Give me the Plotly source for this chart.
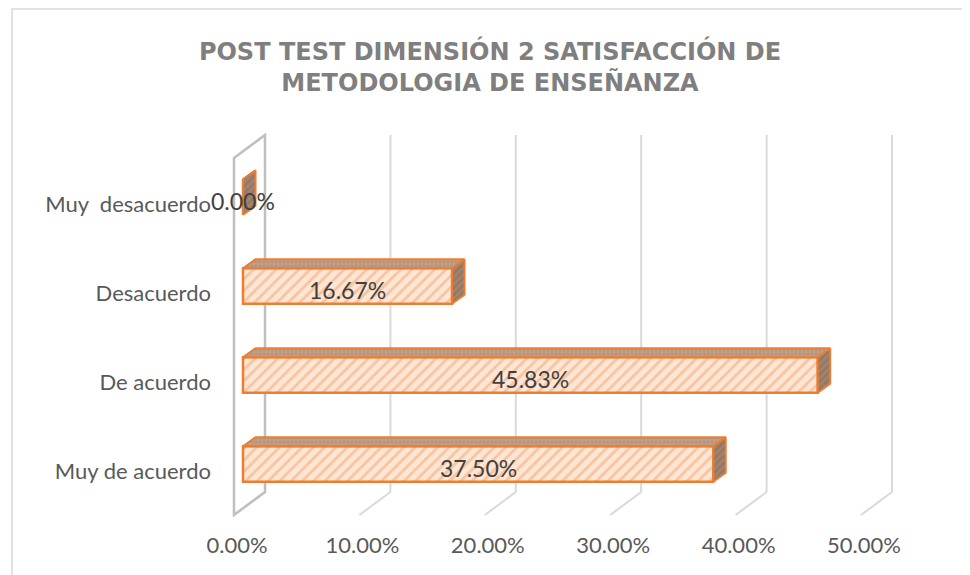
import plotly.graph_objects as go

# ---------------- data ----------------
categories = ["Muy de acuerdo", "De acuerdo", "Desacuerdo", "Muy  desacuerdo"]
values = [0.375, 0.4583, 0.1667, 0.0]
tick_values = [0.0, 0.1, 0.2, 0.3, 0.4, 0.5]
title_text = "POST TEST DIMENSIÓN 2 SATISFACCIÓN DE<br>METODOLOGIA DE ENSEÑANZA"

# ---------------- geometry (screen pixels; page body adds an 8px offset) ----------------
W, H = 970, 575
OFF = 8
PLOT_LEFT, PLOT_RIGHT = 212 - OFF, 910 - OFF
PLOT_TOP, PLOT_BOTTOM = 130 - OFF, 520 - OFF
L, R = PLOT_LEFT, W - PLOT_RIGHT
T, B = PLOT_TOP, H - PLOT_BOTTOM
PX_PER_UNIT_X = 1254.0    # pixels per 1.0 (100%)
PX_PER_CAT = 89.0
X0_PX = 243 - OFF         # pixel of value 0 on bar plane
CAT0_PX = 464 - OFF       # pixel of first category centre
plot_w = PLOT_RIGHT - PLOT_LEFT
plot_h = PLOT_BOTTOM - PLOT_TOP
xmin = -(X0_PX - PLOT_LEFT) / PX_PER_UNIT_X
xmax = xmin + plot_w / PX_PER_UNIT_X
ymin = -(PLOT_BOTTOM - CAT0_PX) / PX_PER_CAT
ymax = ymin + plot_h / PX_PER_CAT


def py(screen_px):  # screen pixel y -> y data
    return (CAT0_PX - (screen_px - OFF)) / PX_PER_CAT


def paper_x(screen_px):
    return (screen_px - OFF - PLOT_LEFT) / plot_w


def paper_y(screen_px):
    return (PLOT_BOTTOM - (screen_px - OFF)) / plot_h


back_dx = 22 / PX_PER_UNIT_X
front_dx = -9 / PX_PER_UNIT_X
wall_top, wall_bot, floor_front, wall_front_top = py(135), py(492), py(515), py(158)

depth_dx = 12.5 / PX_PER_UNIT_X
depth_dy = 9 / PX_PER_CAT
half = 0.2

ORANGE = "#ed7d31"
TEXT = "#595959"
FONT = "Lato"

fig = go.Figure()

# top faces and side faces of 3D bars (derived from data)
for i, v in enumerate(values):
    ytop = i + half
    ybot = i - half
    fig.add_trace(go.Scatter(
        x=[0, v, v + depth_dx, depth_dx, 0],
        y=[ytop, ytop, ytop + depth_dy, ytop + depth_dy, ytop],
        mode="lines", fill="toself", fillcolor="#c9a58c",
        fillpattern=dict(shape=".", bgcolor="#ad9888", fgcolor="#f0a26d", size=4, solidity=0.45),
        line=dict(color=ORANGE, width=2), hoverinfo="skip", showlegend=False))
    fig.add_trace(go.Scatter(
        x=[v, v + depth_dx, v + depth_dx, v, v],
        y=[ybot, ybot + depth_dy, ytop + depth_dy, ytop, ybot],
        mode="lines", fill="toself", fillcolor="#9c8575",
        fillpattern=dict(shape="/", bgcolor="#8f7a6c", fgcolor="#d08a5a", size=5, solidity=0.4),
        line=dict(color=ORANGE, width=2), hoverinfo="skip", showlegend=False))

# front faces
fig.add_trace(go.Bar(
    x=values, y=list(range(len(categories))), orientation="h", width=2 * half,
    marker=dict(color="#fde6d5", line=dict(color=ORANGE, width=2.5),
                pattern=dict(shape="/", bgcolor="#fde6d5", fgcolor="#f3a066", size=8, solidity=0.35)),
    hoverinfo="skip", showlegend=False))

# data labels (centred on each bar's front face)
annotations = [
    dict(x=v / 2, y=i, xref="x", yref="y", text=f"{v:.2%}", showarrow=False,
         yshift=-4, font=dict(family=FONT, size=23, color="#404040"))
    for i, v in enumerate(values)
]

shapes = []
# gridlines (back wall verticals + floor diagonals)
for t in tick_values[1:]:
    shapes.append(dict(type="line", xref="x", yref="y", x0=t + back_dx, x1=t + back_dx,
                       y0=wall_bot, y1=wall_top, line=dict(color="#d9d9d9", width=2), layer="below"))
    shapes.append(dict(type="line", xref="x", yref="y", x0=t + back_dx, x1=t + front_dx,
                       y0=wall_bot, y1=floor_front, line=dict(color="#d9d9d9", width=2), layer="below"))
# side wall at 0
bx, fx = tick_values[0] + back_dx, tick_values[0] + front_dx
shapes.append(dict(type="path", xref="x", yref="y",
                   path=f"M {fx},{wall_front_top} L {bx},{wall_top} L {bx},{wall_bot} L {fx},{floor_front} Z",
                   line=dict(color="#bfbfbf", width=2.5), layer="below"))
# chart border
shapes.append(dict(type="path", xref="paper", yref="paper",
                   path=f"M {paper_x(12)},{paper_y(600)} L {paper_x(12)},{paper_y(9)} "
                        f"L {paper_x(967)},{paper_y(9)} L {paper_x(967)},{paper_y(600)}",
                   line=dict(color="#d9d9d9", width=1.5)))

fig.update_layout(
    width=W, height=H, margin=dict(l=L, r=R, t=T, b=B),
    paper_bgcolor="white", plot_bgcolor="white",
    shapes=shapes, annotations=annotations,
    title=dict(text=title_text, x=(490 - OFF) / W, xanchor="center", xref="container",
               y=1 - (60 - OFF) / H, yanchor="middle", yref="container",
               font=dict(family="DejaVu Sans", size=24, color="#7f7f7f", weight="bold")),
    xaxis=dict(range=[xmin, xmax], tickvals=tick_values, tickformat=".2%",
               showgrid=False, zeroline=False, showline=False, ticks="",
               ticklabelshift=-6, ticklabelstandoff=10,
               tickfont=dict(family=FONT, size=22, color=TEXT)),
    yaxis=dict(range=[ymin, ymax], tickvals=list(range(len(categories))), ticktext=categories,
               showgrid=False, zeroline=False, showline=False, ticks="",
               ticklabelshift=7, ticklabelstandoff=0,
               tickfont=dict(family=FONT, size=22, color=TEXT)),
)

fig.write_html("out.html")
